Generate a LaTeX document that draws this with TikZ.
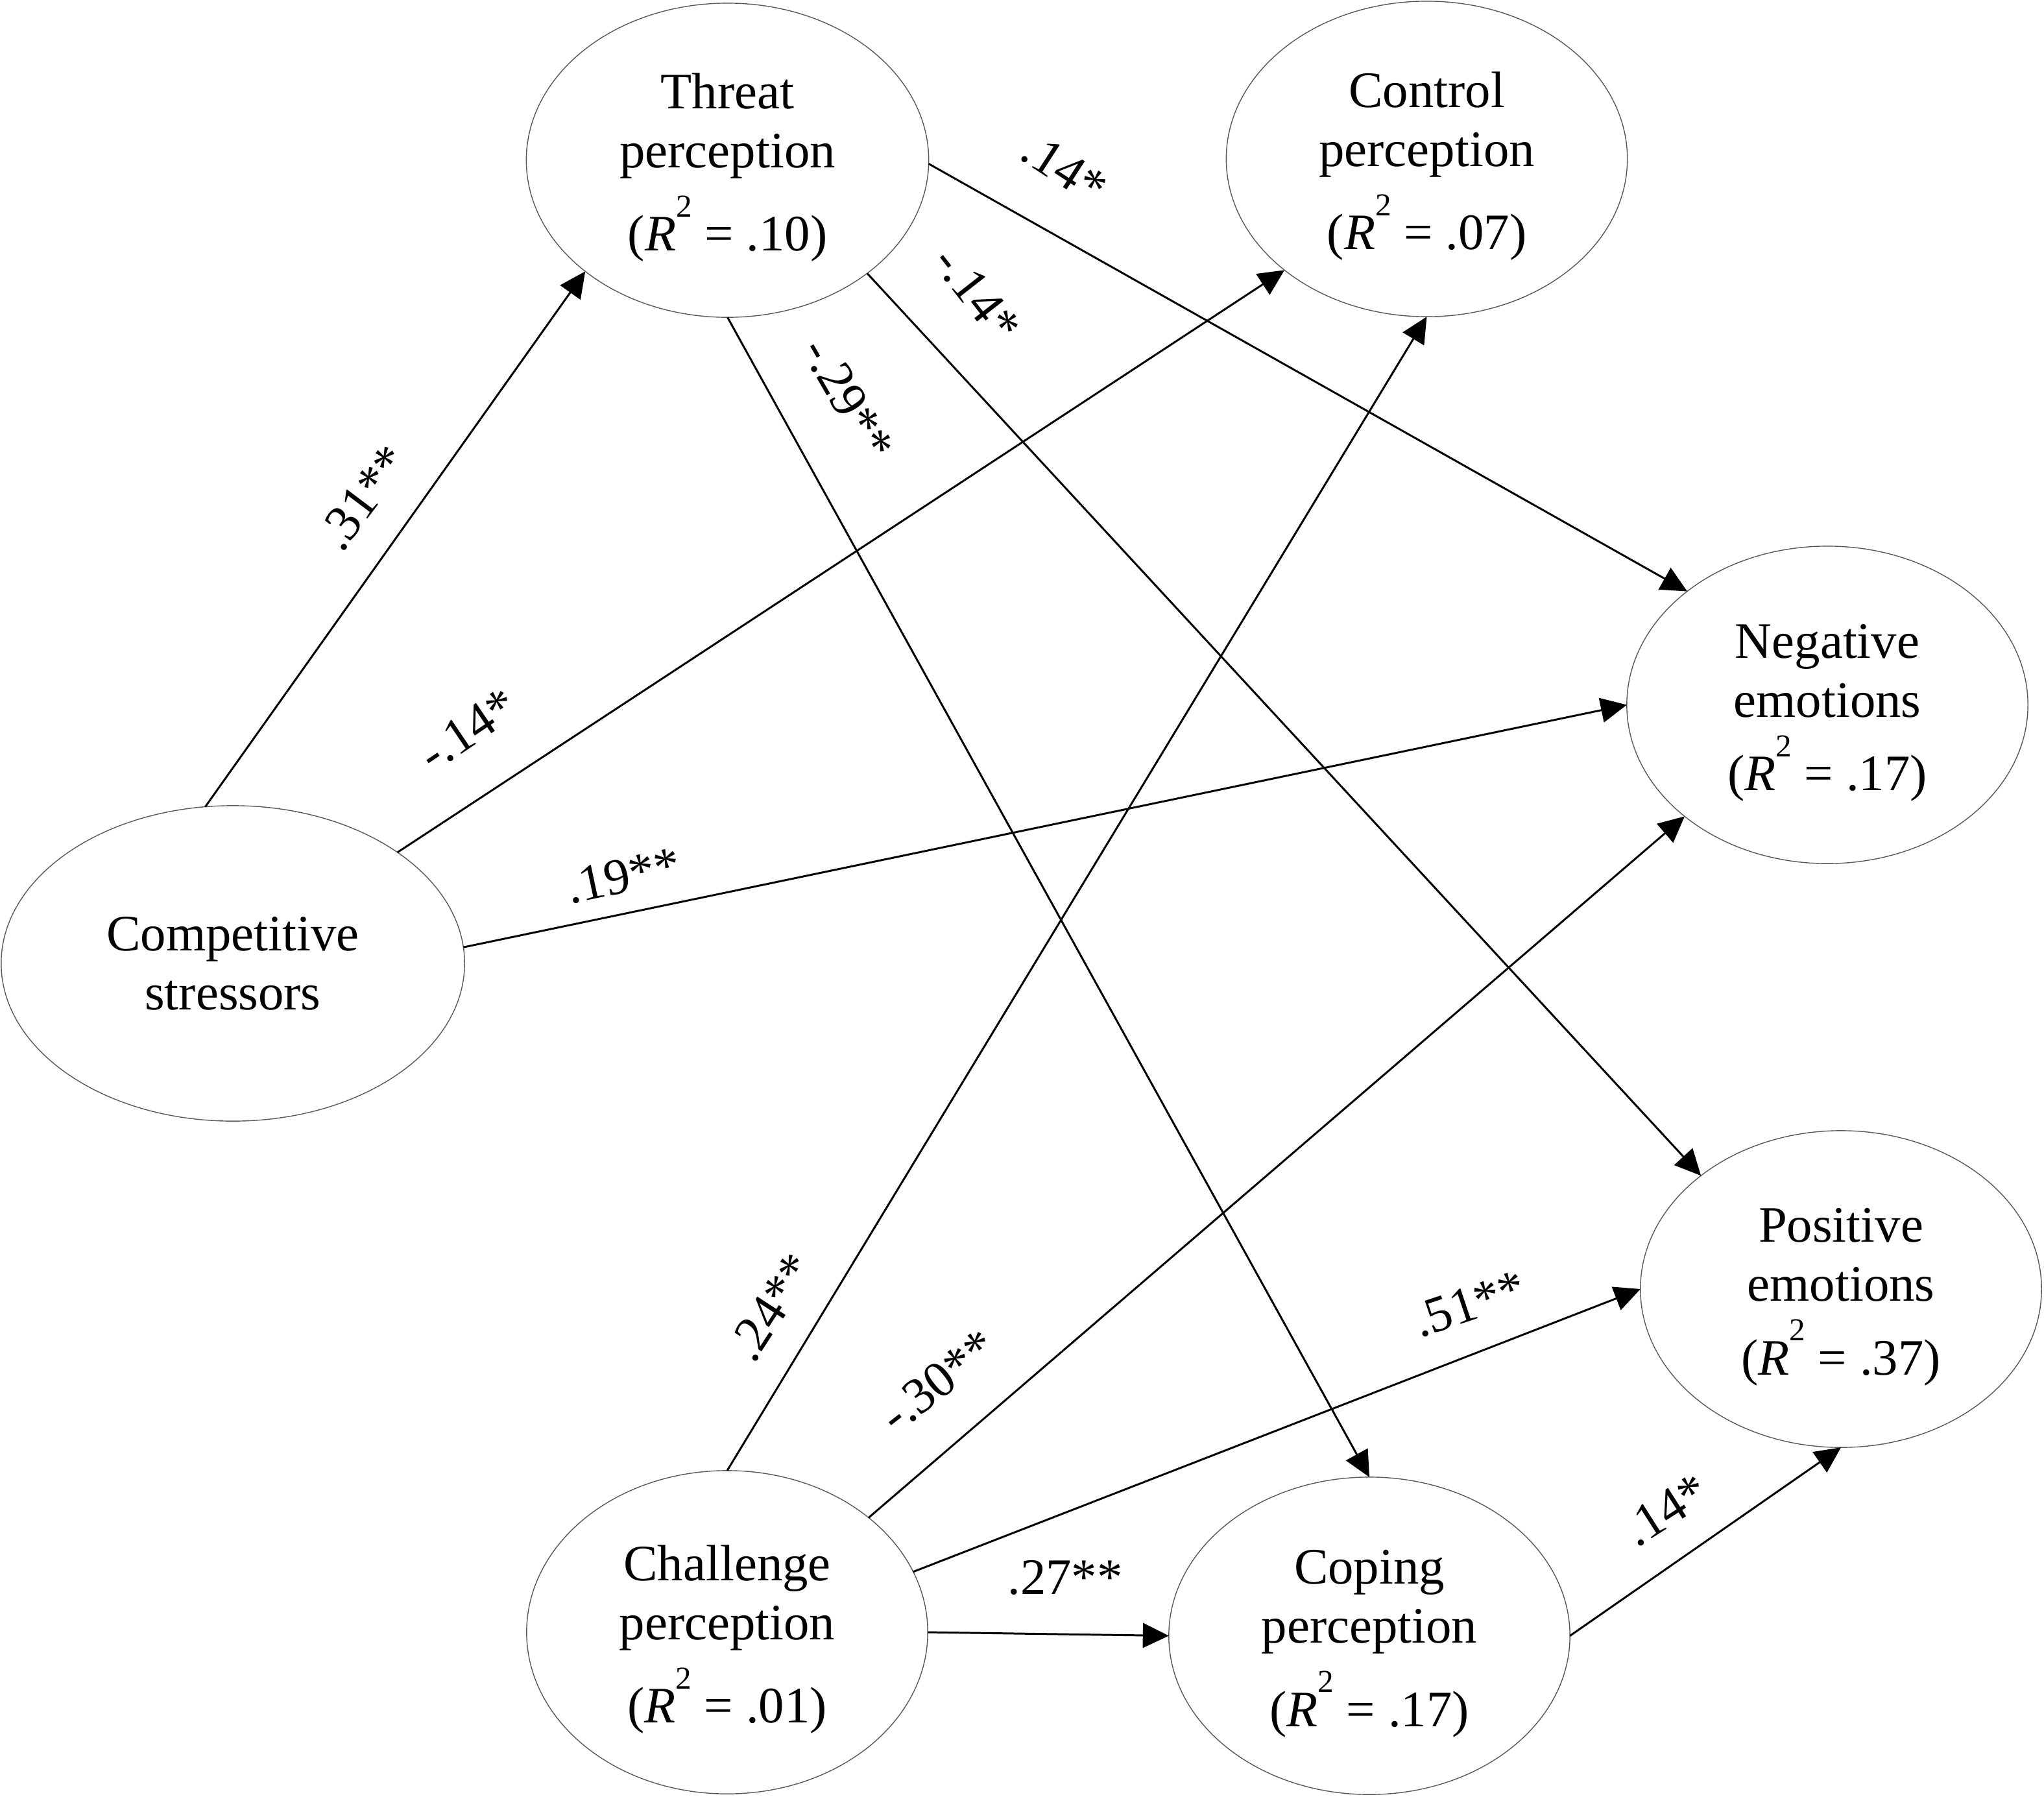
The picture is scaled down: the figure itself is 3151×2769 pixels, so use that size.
\documentclass[tikz,border=0pt]{standalone}
\usepackage{fontspec}
\setmainfont{Liberation Serif}
\usetikzlibrary{arrows.meta,shapes.geometric}
\newcommand\mainfs{\fontsize{22.4}{25.8}\selectfont}
\newcommand\padtop{\rule{0pt}{0.77cm}}
\newcommand\rsq[1]{(\textit{R}\raisebox{0.67em}{\fontsize{14}{14}\selectfont 2} = #1)}
\tikzset{
  ell/.style={ellipse, draw=black!65, line width=0.4pt, inner sep=0pt, outer sep=0pt,
    align=center, font=\mainfs},
  arr/.style={-{Triangle[length=0.4cm,width=0.38cm]}, line width=0.85pt},
  coef/.style={font=\mainfs, inner sep=0pt}
}
\begin{document}
\begin{tikzpicture}[x=0.01cm,y=-0.01cm]
\useasboundingbox (0,0) rectangle (3151,2769);
% nodes
\node[ell, minimum width=6.20cm, minimum height=4.84cm] (threat) at (1121.5,247)
  {\padtop Threat\\perception\\[0.23cm]\rsq{.10}};
\node[ell, minimum width=6.18cm, minimum height=4.86cm] (control) at (2199.5,245)
  {\padtop Control\\perception\\[0.23cm]\rsq{.07}};
\node[ell, minimum width=7.14cm, minimum height=4.86cm] (comp) at (359,1485)
  {Competitive\\stressors};
\node[ell, minimum width=6.18cm, minimum height=4.89cm] (neg) at (2817,1086.5)
  {\padtop Negative\\emotions\\[0.23cm]\rsq{.17}};
\node[ell, minimum width=6.18cm, minimum height=4.88cm] (pos) at (2838,1987)
  {\padtop Positive\\emotions\\[0.23cm]\rsq{.37}};
\node[ell, minimum width=6.18cm, minimum height=4.98cm] (chal) at (1121,2516)
  {\padtop Challenge\\perception\\[0.23cm]\rsq{.01}};
\node[ell, minimum width=6.18cm, minimum height=4.89cm] (coping) at (2111,2521.5)
  {\padtop Coping\\perception\\[0.23cm]\rsq{.17}};
% connectors
\draw[arr] (comp.100.8) -- (threat.218.1);
\draw[arr] (comp.34.3) -- (control.218);
\draw[arr] (comp.4.2) -- (neg.180);
\draw[arr] (threat.359.6) -- (neg.141.8);
\draw[arr] (threat.321.7) -- (pos.141.5);
\draw[arr] (threat.270) -- (coping.90);
\draw[arr] (chal.90) -- (control.270);
\draw[arr] (chal.39.1) -- (neg.218.3);
\draw[arr] (chal.18.4) -- (pos.180);
\draw[arr] (chal.0) -- (coping.180);
\draw[arr] (coping.0) -- (pos.270);
% coefficients
\node[coef, rotate=53] (l31) at (560,767) {.31**};
\node[coef, rotate=34] (l14a) at (721,1125) {-.14*};
\node[coef, rotate=12] (l19) at (961,1350) {.19**};
\node[coef, rotate=-33] (l14b) at (1641,260) {.14*};
\node[coef, rotate=-52] (l14c) at (1506,453) {-.14*};
\node[coef, rotate=-60] (l29) at (1307,615) {-.29**};
\node[coef, rotate=57] (l24) at (1189,2015) {.24**};
\node[coef, rotate=38] (l30) at (1446,2129) {-.30**};
\node[coef, rotate=18.6] (l51) at (2265,2010) {.51**};
\node[coef] (l27) at (1642,2432) {.27**};
\node[coef, rotate=32.5] (l14d) at (2568,2328) {.14*};
\end{tikzpicture}
\end{document}
